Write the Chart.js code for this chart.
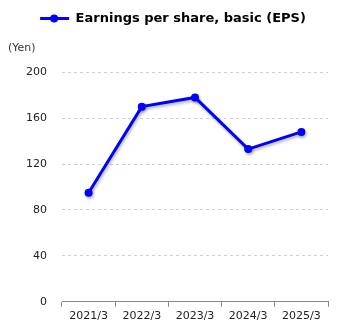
<!DOCTYPE html>
<html>
<head>
<meta charset="utf-8">
<script src="https://cdn.jsdelivr.net/npm/chart.js@4"></script>
<style>
  body { margin: 0; background: #fff; }
  #wrap { width: 345px; height: 330px; }
</style>
</head>
<body>
<div id="wrap"><canvas id="epsChart"></canvas></div>
<script>
// EPS data
const years = ['2021/3', '2022/3', '2023/3', '2024/3', '2025/3'];
const epsValues = [95, 170, 178, 133, 148];
const yTicks = [0, 40, 80, 120, 160, 200];

Chart.defaults.font.family = '"DejaVu Sans", Verdana, sans-serif';

// little drop shadow under the line, like the original
const shadowPlugin = {
    id: 'lineShadow',
    beforeDatasetDraw(chart) {
        const ctx = chart.ctx;
        ctx.save();
        ctx.shadowColor = 'rgba(0,0,0,0.3)';
        ctx.shadowBlur = 3;
        ctx.shadowOffsetX = 1;
        ctx.shadowOffsetY = 2;
    },
    afterDatasetDraw(chart) {
        chart.ctx.restore();
    }
};

// line + dot marker for the legend (box is 10px wider to nudge the legend right)
const legendMarker = {
    id: 'legendMarker',
    afterDraw(chart) {
        const box = chart.legend.legendHitBoxes[0];
        if (!box) return;
        const ctx = chart.ctx;
        const x0 = box.left + 10;
        const y = box.top + box.height / 2;
        ctx.save();
        ctx.strokeStyle = '#0000ff';
        ctx.fillStyle = '#0000ff';
        ctx.lineWidth = 3;
        ctx.beginPath();
        ctx.moveTo(x0, y);
        ctx.lineTo(x0 + 29, y);
        ctx.stroke();
        ctx.beginPath();
        ctx.arc(x0 + 14, y, 4, 0, Math.PI * 2);
        ctx.fill();
        ctx.restore();
    }
};

var ctx = document.getElementById('epsChart').getContext('2d');
var epsChart = new Chart(ctx, {
    type: 'line',
    data: {
        labels: years,
        datasets: [{
            label: 'Earnings per share, basic (EPS)',
            data: epsValues,
            borderColor: '#0000ff',
            backgroundColor: '#0000ff',
            borderWidth: 3,
            pointRadius: 4,
            pointHoverRadius: 4,
            pointBackgroundColor: '#0000ff',
            pointBorderWidth: 0,
            tension: 0
        }]
    },
    options: {
        responsive: true,
        maintainAspectRatio: false,
        animation: false,
        layout: { padding: { left: 8, right: 17, top: 4, bottom: 4 } },
        plugins: {
            legend: {
                position: 'top',
                labels: {
                    boxWidth: 39,
                    boxHeight: 1,
                    color: 'transparent',
                    generateLabels(chart) {
                        return [{
                            text: chart.data.datasets[0].label,
                            fillStyle: 'transparent',
                            strokeStyle: 'transparent',
                            lineWidth: 0,
                            fontColor: '#000',
                            datasetIndex: 0
                        }];
                    },
                    padding: 8,
                    font: { size: 13, weight: 'bold' }
                }
            },
            subtitle: {
                display: true,
                text: '(Yen)',
                align: 'start',
                position: 'top',
                weight: 500,
                color: '#333',
                font: { size: 11 },
                padding: { top: 7, bottom: 17 }
            },
            tooltip: { enabled: false }
        },
        scales: {
            x: {
                offset: true,
                grid: {
                    offset: true,
                    drawOnChartArea: false,
                    drawTicks: true,
                    tickLength: 5,
                    color: '#888'
                },
                border: { color: '#888', width: 1 },
                ticks: { color: '#222', font: { size: 11 }, padding: 3 }
            },
            y: {
                min: 0,
                max: 200,
                afterBuildTicks(scale) {
                    scale.ticks = yTicks.map(v => ({ value: v }));
                },
                afterFit(scale) {
                    scale.width = 54;
                },
                grid: {
                    color: '#d0d0d0',
                    drawTicks: false
                },
                border: { display: false, dash: [3, 3] },
                ticks: { color: '#222', font: { size: 11 }, padding: 15 }
            }
        }
    },
    plugins: [shadowPlugin, legendMarker]
});
</script>
</body>
</html>
